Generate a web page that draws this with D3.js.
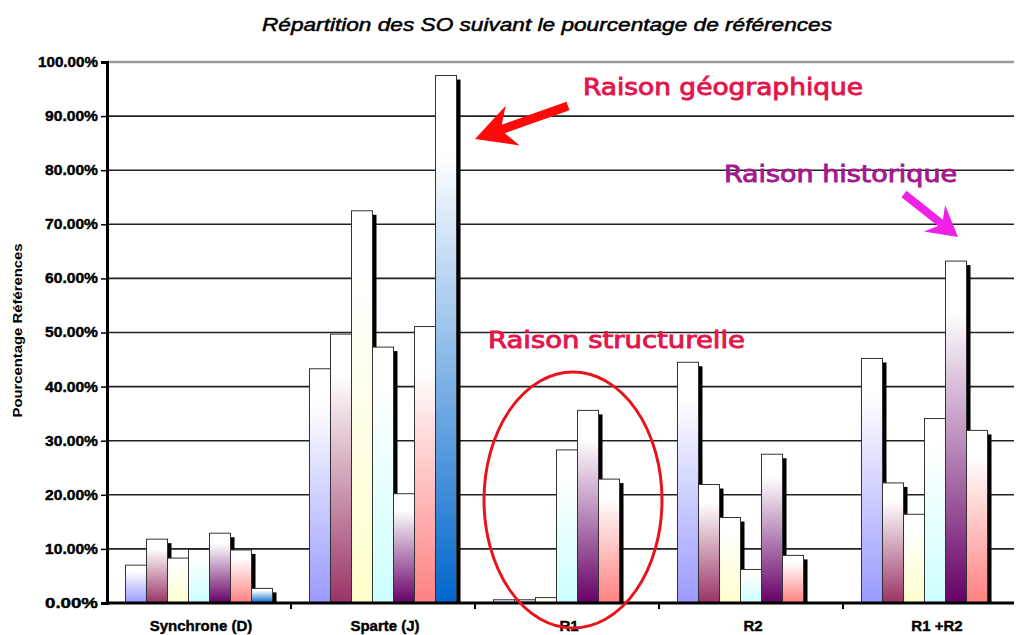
<!DOCTYPE html>
<html><head><meta charset="utf-8">
<script src="https://cdn.jsdelivr.net/npm/d3@7"></script>
<style>body{margin:0;background:#fff}svg{display:block}</style>
</head><body><svg id="c" width="1022" height="635"></svg>
<script>
// ---- data ----
const categories = ["Synchrone (D)", "Sparte (J)", "R1", "R2", "R1 +R2"];
const serie1 = [7.0, 43.3, 0.6, 44.5, 45.2];
const serie2 = [11.8, 49.7, 0.6, 21.9, 22.2];
const serie3 = [8.3, 72.5, 1.0, 15.8, 16.4];
const serie4 = [9.9, 47.3, 28.3, 6.2, 34.1];
const serie5 = [12.9, 20.2, 35.6, 27.5, 63.2];
const serie6 = [9.8, 51.1, 22.9, 8.8, 31.9];
const serie7 = [2.7, 97.5, 0, 0, 0];
const yTicks = [0, 10, 20, 30, 40, 50, 60, 70, 80, 90, 100];
const chartTitle = "Répartition des SO suivant le pourcentage de références";
const yTitle = "Pourcentage Références";
const noteGeo = "Raison géographique";
const noteHist = "Raison historique";
const noteStruct = "Raison structurelle";

const series = [serie1, serie2, serie3, serie4, serie5, serie6, serie7];
const seriesColors = ["#9999FF", "#993366", "#FFFFCC", "#CCFFFF", "#660066", "#FF8080", "#0066CC"];

// ---- layout ----
const svg = d3.select("#c");
const pLeft = 107, pRight = 1027, pTop = 62, pBottom = 603, gridEnd = 1014;

const x0 = d3.scaleBand().domain(categories).range([pLeft, pRight]);
const x1 = d3.scaleBand().domain(d3.range(series.length))
  .range([0, x0.bandwidth()]).paddingInner(0).paddingOuter(0.88);
const y = d3.scaleLinear().domain([0, 100]).range([pBottom, pTop]);

// gradients
const defs = svg.append("defs");
seriesColors.forEach((c, i) => {
  const g = defs.append("linearGradient").attr("id", "g" + i)
    .attr("x1", 0).attr("y1", 0).attr("x2", 0).attr("y2", 1);
  g.append("stop").attr("offset", "0%").attr("stop-color", "#ffffff");
  g.append("stop").attr("offset", "15%").attr("stop-color", "#ffffff");
  g.append("stop").attr("offset", "100%").attr("stop-color", c);
});

// title
svg.append("text").attr("x", 547).attr("y", 31).attr("text-anchor", "middle")
  .attr("font-family", "Liberation Sans Narrow, Liberation Sans, Arial, sans-serif").attr("font-style", "italic")
  .attr("font-size", 18).attr("fill", "#000").attr("stroke", "#000").attr("stroke-width", 0.5)
  .attr("textLength", 570).attr("lengthAdjust", "spacingAndGlyphs")
  .text(chartTitle);

// gridlines
svg.append("g").selectAll("line").data(yTicks.filter(t => t > 0)).join("line")
  .attr("x1", pLeft).attr("x2", gridEnd)
  .attr("y1", d => y(d)).attr("y2", d => y(d))
  .attr("stroke", d => d === 100 ? "#9a9a9a" : "#222")
  .attr("stroke-width", d => d === 100 ? 2.5 : 1.6);

// bars
const barsG = svg.append("g");
series.forEach((vals, si) => {
  const g = barsG.append("g");
  vals.forEach((v, ci) => {
    const bx = x0(categories[ci]) + x1(si);
    const bw = x1.bandwidth();
    const by = y(v);
    const bh = y(0) - y(v);
    if (bh <= 0) return;
    if (bh > 5) {
      g.append("rect").attr("x", bx + 4).attr("y", by + 4)
        .attr("width", bw).attr("height", bh - 4).attr("fill", "#000");
    }
    g.append("rect").attr("x", bx).attr("y", by).attr("width", bw).attr("height", bh)
      .attr("fill", `url(#g${si})`).attr("stroke", "#333").attr("stroke-width", 1);
  });
});

// y axis
const yAxis = svg.append("g").attr("transform", `translate(${pLeft},0)`)
  .call(d3.axisLeft(y).tickValues(yTicks).tickSize(6).tickPadding(3)
    .tickFormat(d => d.toFixed(2) + "%"));
yAxis.select(".domain").attr("stroke", "#000").attr("stroke-width", 3);
yAxis.selectAll(".tick line").attr("stroke", "#000").attr("stroke-width", 1.5);
yAxis.selectAll(".tick text").attr("font-family", "Liberation Sans, Arial, sans-serif")
  .attr("font-weight", "bold").attr("font-size", 14).attr("fill", "#000")
  .attr("stroke", "#000").attr("stroke-width", 0.4)
  .attr("textLength", d => d === 100 ? 60 : 53).attr("lengthAdjust", "spacingAndGlyphs");

// x axis
svg.append("line").attr("x1", pLeft - 1).attr("x2", gridEnd).attr("y1", pBottom).attr("y2", pBottom)
  .attr("stroke", "#000").attr("stroke-width", 3);
svg.append("g").selectAll("line").data(categories.slice(1)).join("line")
  .attr("x1", d => x0(d)).attr("x2", d => x0(d))
  .attr("y1", pBottom).attr("y2", pBottom + 6)
  .attr("stroke", "#000").attr("stroke-width", 2);
svg.append("g").selectAll("text").data(categories).join("text")
  .attr("x", d => x0(d) + x0.bandwidth() / 2 + 2).attr("y", 631)
  .attr("text-anchor", "middle")
  .attr("font-family", "Liberation Sans, Arial, sans-serif")
  .attr("font-weight", "bold").attr("font-size", 15).attr("fill", "#000")
  .attr("stroke", "#000").attr("stroke-width", 0.4)
  .text(d => d);

// y title
svg.append("text").attr("transform", `translate(22,${(pTop + pBottom) / 2 - 2}) rotate(-90)`)
  .attr("text-anchor", "middle")
  .attr("font-family", "Liberation Sans, Arial, sans-serif")
  .attr("font-weight", "bold").attr("font-size", 12).attr("fill", "#000")
  .attr("textLength", 174).attr("lengthAdjust", "spacingAndGlyphs")
  .text(yTitle);

// ---- annotations ----
function arrowPath(tx, ty, hx, hy, shaft, headLen, headHalf) {
  const dx = tx - hx, dy = ty - hy, L = Math.hypot(dx, dy);
  const ux = dx / L, uy = dy / L, px = -uy, py = ux;
  const P = (a, b) => [hx + ux * a + px * b, hy + uy * a + py * b];
  const pts = [
    P(0, 0), P(headLen, headHalf), P(headLen * 0.75, shaft / 2),
    P(L, shaft / 2), P(L, -shaft / 2), P(headLen * 0.75, -shaft / 2),
    P(headLen, -headHalf)
  ];
  return "M" + pts.map(p => p.join(",")).join("L") + "Z";
}
const noteFont = "DejaVu Sans, Verdana, sans-serif";
function note(txt, x, yb, len, color) {
  svg.append("text").attr("x", x).attr("y", yb).attr("font-family", noteFont)
    .attr("font-size", 23).attr("fill", color).attr("stroke", color).attr("stroke-width", 0.9)
    .attr("textLength", len).attr("lengthAdjust", "spacingAndGlyphs").text(txt);
}
note(noteGeo, 583, 95, 280, "#e3154b");
svg.append("path").attr("d", arrowPath(568, 106, 475, 139, 9, 40, 21)).attr("fill", "#ff0a0a");

note(noteHist, 724, 182, 233, "#a3198f");
svg.append("path").attr("d", arrowPath(904, 194, 958, 237, 8, 30, 17)).attr("fill", "#f020e6");

note(noteStruct, 488, 348, 257, "#e3154b");
svg.append("ellipse").attr("cx", 573).attr("cy", 500).attr("rx", 89).attr("ry", 128)
  .attr("fill", "none").attr("stroke", "#e8141c").attr("stroke-width", 3);
</script></body></html>
